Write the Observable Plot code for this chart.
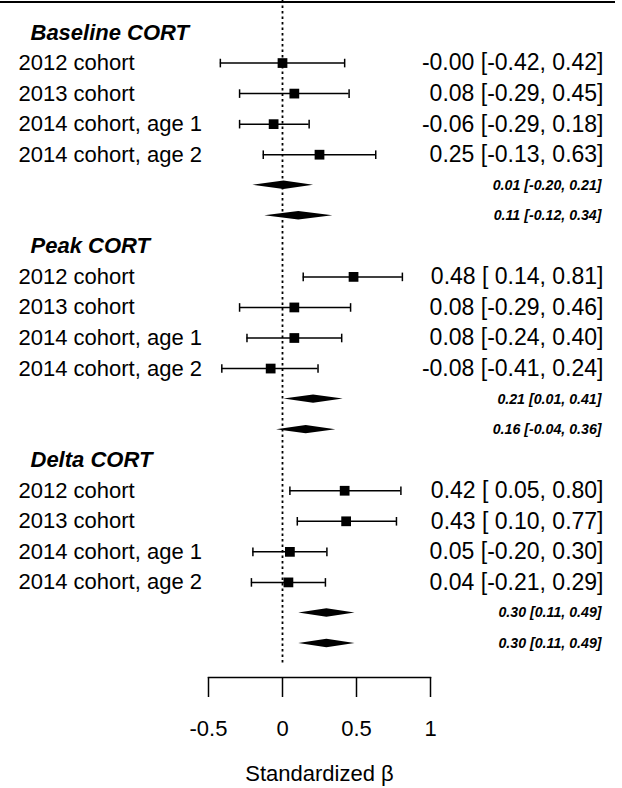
<!DOCTYPE html>
<html>
<head>
<meta charset="utf-8">
<script src="https://cdn.jsdelivr.net/npm/d3@7"></script>
<script src="https://cdn.jsdelivr.net/npm/@observablehq/plot@0.6"></script>
<style>
  html, body { margin: 0; padding: 0; background: white; }
  #wrap { position: relative; width: 622px; height: 788px; }
  #topline { position: absolute; left: 0; top: 1px; width: 615px; height: 2px; background: black; }
</style>
</head>
<body>
<div id="wrap"><div id="topline"></div></div>
<script>
// ---- data ----
const outcomes = ["Baseline CORT", "Peak CORT", "Delta CORT"];
const cohorts = ["2012 cohort", "2013 cohort", "2014 cohort, age 1", "2014 cohort, age 2"];

const baselineEst = [-0, 0.08, -0.06, 0.25];
const baselineLo  = [-0.42, -0.29, -0.29, -0.13];
const baselineHi  = [0.42, 0.45, 0.18, 0.63];
const baselinePooledEst = [0.01, 0.11];
const baselinePooledLo  = [-0.20, -0.12];
const baselinePooledHi  = [0.21, 0.34];

const peakEst = [0.48, 0.08, 0.08, -0.08];
const peakLo  = [0.14, -0.29, -0.24, -0.41];
const peakHi  = [0.81, 0.46, 0.40, 0.24];
const peakPooledEst = [0.21, 0.16];
const peakPooledLo  = [0.01, -0.04];
const peakPooledHi  = [0.41, 0.36];

const deltaEst = [0.42, 0.43, 0.05, 0.04];
const deltaLo  = [0.05, 0.10, -0.20, -0.21];
const deltaHi  = [0.80, 0.77, 0.30, 0.29];
const deltaPooledEst = [0.30, 0.30];
const deltaPooledLo  = [0.11, 0.11];
const deltaPooledHi  = [0.49, 0.49];

const xTicks = [-0.5, 0, 0.5, 1];
const xTitle = "Standardized \u03B2";

// ---- build tables ----
const groups = [
  {est: baselineEst, lo: baselineLo, hi: baselineHi, pe: baselinePooledEst, pl: baselinePooledLo, ph: baselinePooledHi},
  {est: peakEst, lo: peakLo, hi: peakHi, pe: peakPooledEst, pl: peakPooledLo, ph: peakPooledHi},
  {est: deltaEst, lo: deltaLo, hi: deltaHi, pe: deltaPooledEst, pl: deltaPooledLo, ph: deltaPooledHi}
];

const neg = v => v < 0 || Object.is(v, -0);
const f2 = v => (neg(v) ? "-" : "") + Math.abs(v).toFixed(2);
const f2pad = v => (neg(v) ? "-" : " ") + Math.abs(v).toFixed(2);

const headers = [], studies = [], pooled = [];
groups.forEach((g, gi) => {
  const base = gi * (1 + cohorts.length + g.pe.length);
  headers.push({row: base, label: outcomes[gi]});
  g.est.forEach((e, i) => studies.push({
    row: base + 1 + i, label: cohorts[i], est: e, lo: g.lo[i], hi: g.hi[i],
    text: `${f2(e)} [${f2pad(g.lo[i])}, ${f2(g.hi[i])}]`
  }));
  g.pe.forEach((e, i) => pooled.push({
    id: `${gi}-${i}`, row: base + 1 + cohorts.length + i, est: e, lo: g.pl[i], hi: g.ph[i],
    text: `${f2(e)} [${f2(g.pl[i])}, ${f2(g.ph[i])}]`
  }));
});
const nRows = headers.length + studies.length + pooled.length;

const caps = studies.flatMap(d => [{x: d.lo, row: d.row}, {x: d.hi, row: d.row}]);
const half = 0.137; // diamond half-height, in row units
const diamondPts = pooled.flatMap(d => [
  {id: d.id, x: d.lo, y1: d.row, y2: d.row},
  {id: d.id, x: d.est, y1: d.row - half, y2: d.row + half},
  {id: d.id, x: d.hi, y1: d.row, y2: d.row}
]);

const capSymbol = {
  draw(ctx, size) {
    const h = Math.sqrt(size / Math.PI);
    ctx.moveTo(0, -h);
    ctx.lineTo(0, h);
  }
};

const chart = Plot.plot({
  width: 622,
  height: 788,
  marginTop: 0,
  marginBottom: 111,
  marginLeft: 208,
  marginRight: 192,
  style: {fontFamily: "'Liberation Sans', Arial, sans-serif", fontSize: "22px", background: "white", color: "black", overflow: "visible"},
  x: {domain: [-0.5, 1], label: null},
  y: {domain: [0, nRows - 1], range: [32, 643], axis: null},
  marks: [
    Plot.ruleX([0], {stroke: "black", strokeWidth: 1.8, strokeDasharray: "2.5,3", insetBottom: 12}),
    Plot.ruleY(studies, {y: "row", x1: "lo", x2: "hi", stroke: "black", strokeWidth: 1.5}),
    Plot.dot(caps, {x: "x", y: "row", symbol: capSymbol, r: 4.3, stroke: "black", strokeWidth: 1.5, fill: "none"}),
    Plot.dot(studies, {x: "est", y: "row", symbol: "square", r: 5.5, fill: "black"}),
    Plot.areaY(diamondPts, {x: "x", y1: "y1", y2: "y2", z: "id", fill: "black", curve: "linear"}),
    Plot.text(headers, {y: "row", text: "label", frameAnchor: "left", textAnchor: "start", dx: -178, fontSize: 22, fontWeight: "bold", fontStyle: "italic", lineAnchor: "middle"}),
    Plot.text(studies, {y: "row", text: "label", frameAnchor: "left", textAnchor: "start", dx: -190, fontSize: 22, lineAnchor: "middle"}),
    Plot.text(studies, {y: "row", text: "text", frameAnchor: "right", textAnchor: "end", dx: 173, fontSize: 23, lineAnchor: "middle"}),
    Plot.text(pooled, {y: "row", text: "text", frameAnchor: "right", textAnchor: "end", dx: 171, fontSize: 14.2, fontWeight: "bold", fontStyle: "italic", lineAnchor: "middle"}),
    Plot.frame({anchor: "bottom", stroke: "black", strokeWidth: 1.5}),
    Plot.axisX({ticks: xTicks, tickSize: 20, tickPadding: 23, fontSize: 22, tickFormat: d => String(d), strokeWidth: 1.5, label: null}),
    Plot.text([xTitle], {frameAnchor: "bottom", dy: 96, fontSize: 22, lineAnchor: "middle"})
  ]
});
document.getElementById("wrap").appendChild(chart);
</script>
</body>
</html>
